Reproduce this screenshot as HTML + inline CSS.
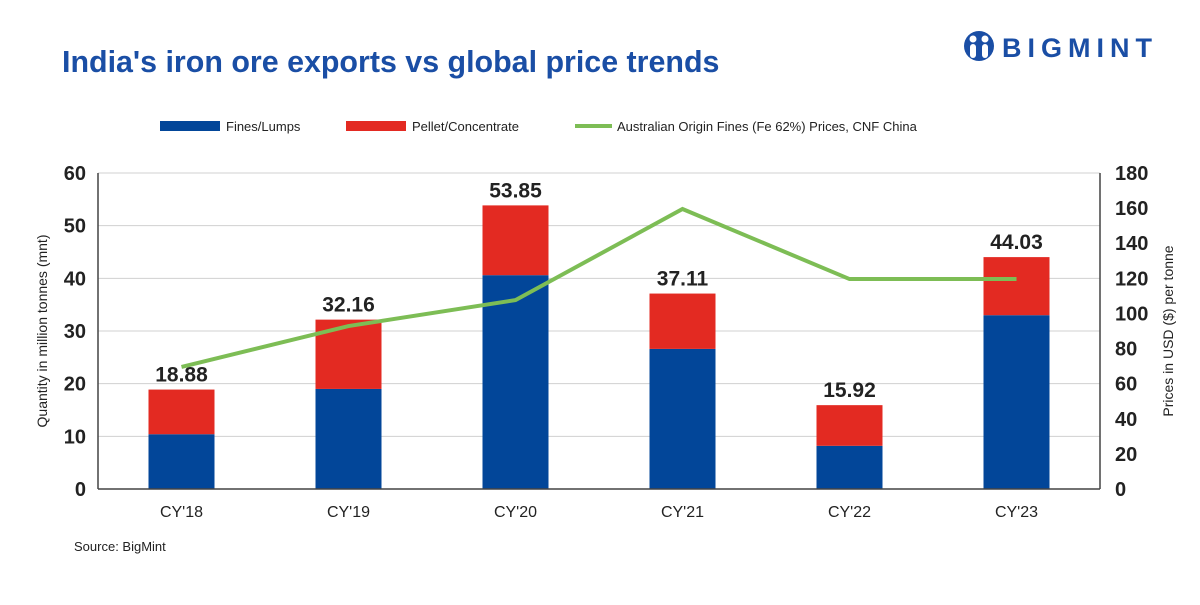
<!DOCTYPE html>
<html><head><meta charset="utf-8"><style>
body{margin:0;background:#fff;font-family:"Liberation Sans",Arial,sans-serif}
</style></head><body>
<svg width="1200" height="600" viewBox="0 0 1200 600" xmlns="http://www.w3.org/2000/svg" font-family="Liberation Sans, Arial, sans-serif">
<text x="62" y="72" font-size="30.4" font-weight="bold" fill="#1a4ea5">India's iron ore exports vs global price trends</text>
<g>
<circle cx="979" cy="46" r="15" fill="#1a4ea5"/>
<circle cx="973" cy="39" r="3.5" fill="#fff"/><circle cx="985" cy="39" r="3.5" fill="#fff"/>
<rect x="970" y="44" width="6" height="14" rx="3" fill="#fff"/><rect x="982" y="44" width="6" height="14" rx="3" fill="#fff"/>
<text x="1002" y="57" font-size="27" font-weight="bold" fill="#1a4ea5" letter-spacing="6">BIGMINT</text>
</g>
<g font-size="13" fill="#222">
<rect x="160" y="121" width="60" height="10" fill="#024699"/>
<text x="226" y="131">Fines/Lumps</text>
<rect x="346" y="121" width="60" height="10" fill="#e32a22"/>
<text x="412" y="131">Pellet/Concentrate</text>
<line x1="575" y1="126" x2="612" y2="126" stroke="#7dbd55" stroke-width="4"/>
<text x="617" y="131">Australian Origin Fines (Fe 62%) Prices, CNF China</text>
</g>
<g id="grid"></g><g id="bars"></g><g id="line"></g><g id="axes"></g>
<text transform="translate(47,331) rotate(-90)" text-anchor="middle" font-size="14" fill="#222">Quantity in million tonnes (mnt)</text>
<text transform="translate(1173,331) rotate(-90)" text-anchor="middle" font-size="14" fill="#222">Prices in USD ($) per tonne</text>
<text x="74" y="551" font-size="13" fill="#222">Source: BigMint</text>
</svg>
<script>
const categories=["CY'18","CY'19","CY'20","CY'21","CY'22","CY'23"];
const totals=[18.88,32.16,53.85,37.11,15.92,44.03];
const fines=[10.4,19.0,40.6,26.6,8.2,33.0];
const prices=[69.5,92.8,107.6,159.5,119.6,119.6];
const leftTicks=[0,10,20,30,40,50,60];
const rightTicks=[0,20,40,60,80,100,120,140,160,180];
const NS="http://www.w3.org/2000/svg";
const X0=98,X1=1100,Y0=489,Y1=173;
const band=(X1-X0)/categories.length;
const xc=i=>X0+band*(i+0.5);
const yL=v=>Y0-(v/60)*(Y0-Y1);
const yR=v=>Y0-(v/180)*(Y0-Y1);
function mk(t,a,p){const e=document.createElementNS(NS,t);for(const k in a)e.setAttribute(k,a[k]);p.appendChild(e);return e;}
const grid=document.getElementById('grid'),bars=document.getElementById('bars'),line=document.getElementById('line'),axes=document.getElementById('axes');
leftTicks.forEach(v=>{
 const l=mk('line',{x1:X0,x2:X1,y1:yL(v),y2:yL(v),stroke:'#d0d0d0','stroke-width':1},grid);
 
 
 const t=mk('text',{x:X0-12,y:yL(v)+7,'text-anchor':'end','font-size':20,'font-weight':'bold',fill:'#222'},axes);
 t.textContent=v;
 
 
});
rightTicks.forEach(v=>{
 const t=mk('text',{x:X1+15,y:yR(v)+7,'font-size':20,'font-weight':'bold',fill:'#222'},axes);
 t.textContent=v;
 
 
});
const w=66;
categories.forEach((c,i)=>{
 const f=mk('rect',{x:xc(i)-w/2,y:yL(fines[i]),width:w,height:Y0-yL(fines[i]),fill:'#024699'},bars);
 
 
 const p=mk('rect',{x:xc(i)-w/2,y:yL(totals[i]),width:w,height:yL(fines[i])-yL(totals[i]),fill:'#e32a22'},bars);
 
 
 const t=mk('text',{x:xc(i),y:yL(totals[i])-8,'text-anchor':'middle','font-size':21,'font-weight':'bold',fill:'#222'},bars);
 t.textContent=totals[i].toFixed(2);
 
 
 const xl=mk('text',{x:xc(i),y:Y0+28,'text-anchor':'middle','font-size':16,fill:'#222'},axes);
 xl.textContent=c;
 
 
});
const pl=mk('polyline',{points:prices.map((v,i)=>xc(i)+','+yR(v)).join(' '),fill:'none',stroke:'#7dbd55','stroke-width':4},line);


[[X0,Y1,X0,Y0],[X1,Y1,X1,Y0],[X0,Y0,X1,Y0]].forEach(a=>{
 const l=mk('line',{x1:a[0],y1:a[1],x2:a[2],y2:a[3],stroke:'#444','stroke-width':1.5},axes);
 
 
});
</script>
</body></html>
